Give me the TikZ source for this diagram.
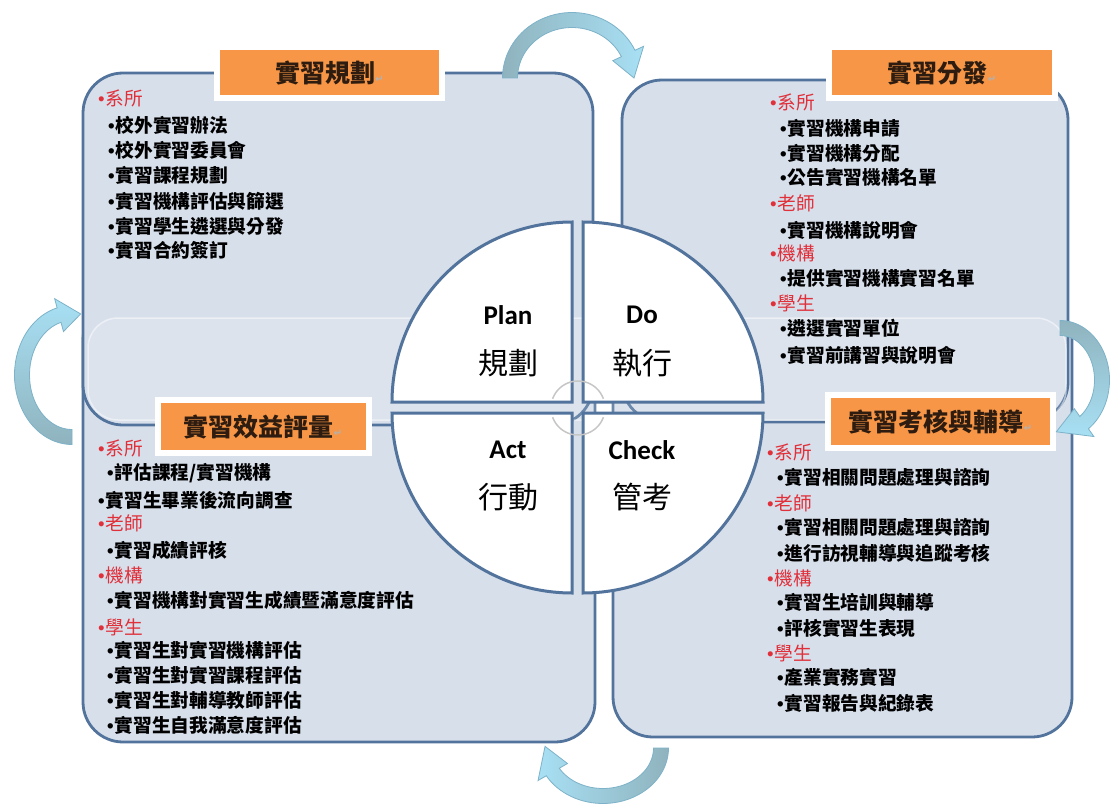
\documentclass[tikz,border=0pt]{standalone}
\usepackage{fontspec}
\newfontfamily\cjk{Noto Sans CJK TC}
\newfontfamily\lat{Carlito}
\newfontfamily\dv{DejaVu Sans}
\newfontfamily\lib{Liberation Sans}
\usetikzlibrary{shadows}
\definecolor{panelfill}{HTML}{D7DFEB}
\definecolor{paneldraw}{HTML}{52739C}
\definecolor{orng}{HTML}{F79646}
\definecolor{redtxt}{HTML}{E0303A}
\definecolor{titletxt}{HTML}{2E1C10}
\definecolor{arrgray}{HTML}{8FB3BE}
\definecolor{arrcyan}{HTML}{A8E0F4}
\definecolor{arrline}{HTML}{7DB2C8}
\newcommand\ret{{\dv\fontsize{10}{10}\selectfont\color{gray!60}↵}}
\newcommand\bul{{\lib •}\hspace{1pt}}
% cx cy rx ry a1 a2 a3 style
\newcommand{\bentarrow}[8]{%
 \path[#8] plot[domain=#5:#6,samples=40] ({#1+(#3+7.5)*cos(\x)},{#2+(#4+7.5)*sin(\x)})
 -- ({#1+(#3+17)*cos(#6)},{#2+(#4+17)*sin(#6)})
 -- ({#1+#3*cos(#7)},{#2+#4*sin(#7)})
 -- ({#1+(#3-17)*cos(#6)},{#2+(#4-17)*sin(#6)})
 -- plot[domain=#6:#5,samples=40] ({#1+(#3-7.5)*cos(\x)},{#2+(#4-7.5)*sin(\x)}) -- cycle;}
\tikzset{
 panel/.style={fill=panelfill, draw=paneldraw, line width=2.8pt, rounded corners=40pt},
 quad/.style={fill=white, draw=paneldraw, line width=3pt},
 ttl/.style={fill=orng, draw=white, line width=6pt, inner sep=0pt,
   drop shadow={opacity=0.3, shadow xshift=1.5pt, shadow yshift=-2pt},
   font=\cjk\bfseries\fontsize{25}{25}\selectfont, text=titletxt},
 hdr/.style={anchor=west, inner sep=0pt, text=redtxt, font=\cjk\fontsize{18.7}{18.7}\selectfont},
 itm/.style={anchor=west, inner sep=0pt, text=black, font=\cjk\bfseries\fontsize{18.7}{18.7}\selectfont},
 qen/.style={inner sep=0pt, font=\lat\bfseries\fontsize{27}{27}\selectfont},
 qcn/.style={inner sep=0pt, font=\cjk\fontsize{30}{30}\selectfont},
 arr/.style={draw=arrline, line width=0.8pt},
}
\begin{document}
\begin{tikzpicture}[x=1pt,y=-1pt]
\useasboundingbox (0,0) rectangle (1115,805);
\fill[white] (0,0) rectangle (1115,805);
% panels
\draw[panel] (83,300) rectangle (595,742);
\draw[panel] (613,300) rectangle (1072,737);
\draw[panel] (83,73) rectangle (593,425);
\draw[panel] (622,80) rectangle (1068,422);
% faint band
\draw[white, draw opacity=0.5, line width=1.5pt, fill=white, fill opacity=0.15, rounded corners=30pt] (88,318) rectangle (1066,420);
% title boxes
\node[ttl, minimum width=225pt, minimum height=51pt] (t1) at (329.5,72.5) {實習規劃\ret};
\node[ttl, minimum width=226pt, minimum height=51pt] (t2) at (942,72.5) {實習分發\ret};
\node[ttl, minimum width=211pt, minimum height=53pt] (t3) at (263,426.5) {實習效益評量\ret};
\node[ttl, minimum width=225pt, minimum height=53pt] (t4) at (940.5,421.5) {實習考核與輔導\ret};
% quadrants
\path[quad] (572,402) -- plot[domain=180:270,samples=60] ({572+180*cos(\x)},{402+180*sin(\x)}) -- cycle;
\path[quad] (583,402) -- plot[domain=270:360,samples=60] ({583+180*cos(\x)},{402+180*sin(\x)}) -- cycle;
\path[quad] (572,413) -- plot[domain=90:180,samples=60] ({572+180*cos(\x)},{413+180*sin(\x)}) -- cycle;
\path[quad] (583,413) -- plot[domain=0:90,samples=60] ({583+180*cos(\x)},{413+180*sin(\x)}) -- cycle;
\draw[gray!45, line width=1.5pt] plot[domain=200:340,samples=30] ({578+27*cos(\x)},{408+27*sin(\x)});
\draw[gray!45, line width=1.5pt] plot[domain=20:160,samples=30] ({578+27*cos(\x)},{408+27*sin(\x)});
% quadrant labels
\node[qen] (planen) at (508,315) {Plan};
\node[qcn] (plancn) at (508,363) {規劃};
\node[qen] (doen) at (642,315) {Do};
\node[qcn] (docn) at (642,363) {執行};
\node[qen] (acten) at (508,450) {Act};
\node[qcn] (actcn) at (508,497) {行動};
\node[qen] (checken) at (642,450) {Check};
\node[qcn] (checkcn) at (642,497) {管考};
% TL text
\node[hdr] (tl1) at (98,98) {\bul 系所};
\node[itm] (tl2) at (108,125) {\bul 校外實習辦法};
\node[itm] (tl3) at (108,150) {\bul 校外實習委員會};
\node[itm] (tl4) at (108,175) {\bul 實習課程規劃};
\node[itm] (tl5) at (108,201) {\bul 實習機構評估與篩選};
\node[itm] (tl6) at (108,226) {\bul 實習學生遴選與分發};
\node[itm] (tl7) at (108,250) {\bul 實習合約簽訂};
% TR text
\node[hdr] (tr1) at (770,102) {\bul 系所};
\node[itm] (tr2) at (780,128) {\bul 實習機構申請};
\node[itm] (tr3) at (780,153) {\bul 實習機構分配};
\node[itm] (tr4) at (780,177) {\bul 公告實習機構名單};
\node[hdr] (tr5) at (770,203) {\bul 老師};
\node[itm] (tr6) at (780,230) {\bul 實習機構說明會};
\node[hdr] (tr7) at (770,253) {\bul 機構};
\node[itm] (tr8) at (780,278) {\bul 提供實習機構實習名單};
\node[hdr] (tr9) at (770,303) {\bul 學生};
\node[itm] (tr10) at (780,328) {\bul 遴選實習單位};
\node[itm] (tr11) at (780,355) {\bul 實習前講習與說明會};
% BL text
\node[hdr] (bl1) at (98,448) {\bul 系所};
\node[itm] (bl2) at (107,473) {\bul 評估課程/實習機構};
\node[itm] (bl3) at (98,500) {\bul 實習生畢業後流向調查};
\node[hdr] (bl4) at (98,523) {\bul 老師};
\node[itm] (bl5) at (107,550) {\bul 實習成績評核};
\node[hdr] (bl6) at (98,575) {\bul 機構};
\node[itm] (bl7) at (107,600) {\bul 實習機構對實習生成績暨滿意度評估};
\node[hdr] (bl8) at (98,627) {\bul 學生};
\node[itm] (bl9) at (107,650) {\bul 實習生對實習機構評估};
\node[itm] (bl10) at (107,675) {\bul 實習生對實習課程評估};
\node[itm] (bl11) at (107,700) {\bul 實習生對輔導教師評估};
\node[itm] (bl12) at (107,725) {\bul 實習生自我滿意度評估};
% BR text
\node[hdr] (br1) at (767,452) {\bul 系所};
\node[itm] (br2) at (777,477) {\bul 實習相關問題處理與諮詢};
\node[hdr] (br3) at (767,503) {\bul 老師};
\node[itm] (br4) at (777,527) {\bul 實習相關問題處理與諮詢};
\node[itm] (br5) at (777,553) {\bul 進行訪視輔導與追蹤考核};
\node[hdr] (br6) at (767,578) {\bul 機構};
\node[itm] (br7) at (777,602) {\bul 實習生培訓與輔導};
\node[itm] (br8) at (777,628) {\bul 評核實習生表現};
\node[hdr] (br9) at (767,653) {\bul 學生};
\node[itm] (br10) at (777,677) {\bul 產業實務實習};
\node[itm] (br11) at (777,703) {\bul 實習報告與紀錄表};
% cycle arrows
\bentarrow{572}{78}{62}{58}{180}{335}{360}{arr, left color=arrgray, right color=arrcyan}
\bentarrow{1060}{380}{42}{52}{-90}{55}{95}{arr, top color=arrgray, bottom color=arrcyan}
\bentarrow{603}{748}{58}{48}{0}{150}{182}{arr, right color=arrgray, left color=arrcyan}
\bentarrow{72}{375}{50}{62}{90}{255}{280}{arr, bottom color=arrgray, top color=arrcyan}
\end{tikzpicture}
\end{document}
